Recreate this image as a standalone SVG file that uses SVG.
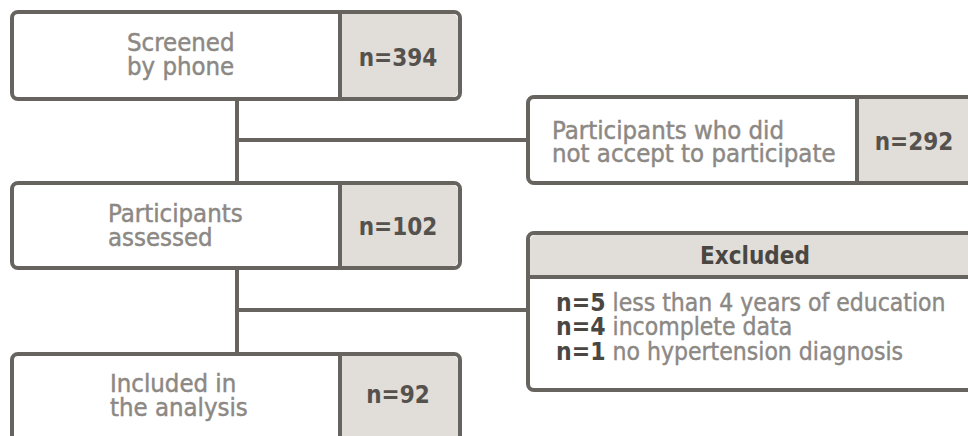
<svg xmlns="http://www.w3.org/2000/svg" width="968" height="436" viewBox="0 0 968 436">
<style>
.box{fill:#ffffff;stroke:#67635e;stroke-width:4}
.cell{fill:#e1ddd8}
.div{stroke:#67635e;stroke-width:4}
.conn{stroke:#67635e;stroke-width:4;fill:none}
.lbl{font-family:"DejaVu Sans Condensed","DejaVu Sans",sans-serif;font-stretch:condensed;font-size:25.5px;fill:#8c8884;stroke:#8c8884;stroke-width:0.45}
.num{font-family:"DejaVu Sans Condensed","DejaVu Sans",sans-serif;font-stretch:condensed;font-weight:bold;font-size:24px;fill:#55514d}
.lst{font-family:"DejaVu Sans Condensed","DejaVu Sans",sans-serif;font-stretch:condensed;font-size:24.5px;fill:#8c8884;stroke:#8c8884;stroke-width:0.4}
.b{font-weight:bold;fill:#4a4743;stroke:none}
</style>
<rect width="968" height="436" fill="#ffffff"/>
<g id="connectors">
<line class="conn" x1="237" y1="99" x2="237" y2="183"/>
<line class="conn" x1="237" y1="140" x2="528" y2="140"/>
<line class="conn" x1="237" y1="268" x2="237" y2="354"/>
<line class="conn" x1="237" y1="310" x2="528" y2="310"/>
</g>
<g id="screened">
<rect class="box" x="12" y="12" width="448" height="87" rx="6"/>
<path class="cell" d="M342 14H452a6 6 0 0 1 6 6V91a6 6 0 0 1-6 6H342Z"/>
<line class="div" x1="340" y1="12" x2="340" y2="99"/>
<text class="lbl" x="127" y="51">Screened</text>
<text class="lbl" x="127" y="75">by phone</text>
<text class="num" x="398" y="66" text-anchor="middle">n=394</text>
</g>
<g id="declined">
<rect class="box" x="528" y="97" width="460" height="86" rx="6"/>
<rect class="cell" x="859" y="99" width="120" height="82"/>
<line class="div" x1="857" y1="97" x2="857" y2="183"/>
<text class="lbl" x="552" y="139">Participants who did</text>
<text class="lbl" x="552" y="162">not accept to participate</text>
<text class="num" x="914" y="150" text-anchor="middle">n=292</text>
</g>
<g id="assessed">
<rect class="box" x="12" y="183" width="448" height="85" rx="6"/>
<path class="cell" d="M342 185H452a6 6 0 0 1 6 6V260a6 6 0 0 1-6 6H342Z"/>
<line class="div" x1="340" y1="183" x2="340" y2="268"/>
<text class="lbl" x="108" y="222">Participants</text>
<text class="lbl" x="108" y="246">assessed</text>
<text class="num" x="398" y="235" text-anchor="middle">n=102</text>
</g>
<g id="excluded">
<rect class="box" x="528" y="233" width="460" height="157" rx="6"/>
<path class="cell" d="M530 277V241a6 6 0 0 1 6-6H980V277Z"/>
<line class="div" x1="528" y1="277" x2="980" y2="277"/>
<text class="num" x="755" y="264" text-anchor="middle" style="fill:#4a4743">Excluded</text>
<text class="lst" x="556" y="311"><tspan class="b">n=5</tspan> less than 4 years of education</text>
<text class="lst" x="556" y="335"><tspan class="b">n=4</tspan> incomplete data</text>
<text class="lst" x="556" y="360"><tspan class="b">n=1</tspan> no hypertension diagnosis</text>
</g>
<g id="included">
<rect class="box" x="12" y="354" width="448" height="100" rx="6"/>
<path class="cell" d="M342 356H452a6 6 0 0 1 6 6V440H342Z"/>
<line class="div" x1="340" y1="354" x2="340" y2="440"/>
<text class="lbl" x="110" y="392">Included in</text>
<text class="lbl" x="110" y="416">the analysis</text>
<text class="num" x="398" y="403" text-anchor="middle">n=92</text>
</g>
</svg>
